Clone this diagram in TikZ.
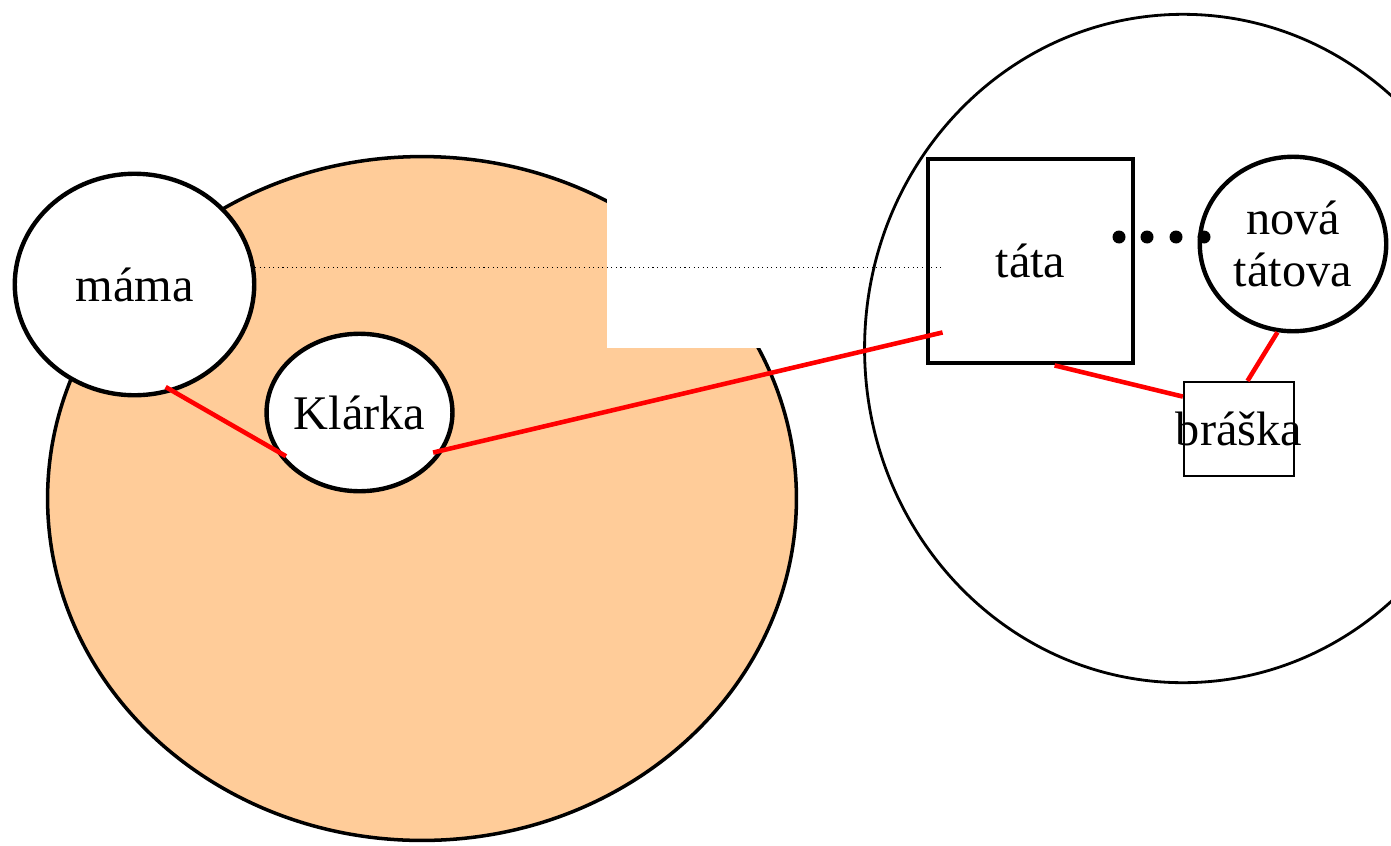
\documentclass[tikz,border=0pt]{standalone}
\usepackage{fontspec}
\setmainfont{Liberation Serif}
\usetikzlibrary{shapes.geometric, calc}
\definecolor{mpeach}{HTML}{FFCC99}
\definecolor{mred}{HTML}{FF0000}
\tikzset{
  persona/.style={ellipse, draw=black, fill=white, line width=2.5pt, inner sep=0pt,
                  align=center, font=\fontsize{27.5}{30}\selectfont},
  tatabox/.style={rectangle, draw=black, fill=white, line width=2.8pt, inner sep=0pt,
                  minimum width=4.1cm, minimum height=4.08cm, font=\fontsize{27.5}{30}\selectfont},
  brbox/.style={rectangle, draw=black, fill=white, line width=1.3pt, inner sep=0pt,
                minimum width=2.2cm, minimum height=1.88cm, font=\fontsize{27.5}{30}\selectfont},
  tie/.style={mred, line width=2.6pt},
  dotline/.style={dotted, line width=0.6pt, black},
}

\begin{document}
\begin{tikzpicture}[x=0.02cm, y=-0.02cm]
  \useasboundingbox (0,0) rectangle (1391,845);

  % rodiny
  \draw[fill=mpeach, line width=2pt] (422,498.5) ellipse [x radius=7.49cm, y radius=6.84cm];
  \fill[white] (607,190) rectangle (780,348);
  \draw[line width=1.6pt] (1183,348.5) ellipse [x radius=6.37cm, y radius=6.685cm];

  % osoby
  \node[persona, minimum width=4.79cm, minimum height=4.43cm] (mama) at (134.5,284.5) {máma};
  \node[persona, minimum width=3.51cm, minimum height=3.15cm] (klarka) at (359.5,412.5) {Klárka};
  \node[tatabox] (tata) at (1030.5,261) {táta};
  \node[persona, minimum width=3.73cm, minimum height=3.49cm] (nova) at (1293,244) {nová\\tátova};
  \node[brbox] (braska) at (1239,429) {\makebox[0pt]{\raisebox{-0.08cm}{bráška}}};

  \coordinate (tataIn) at ([shift={(17,-33)}]tata.south west);

  % vztahy
  \draw[dotline] (mama.8) -- (mama.8 -| tataIn);
  \draw[tie, shorten <=-0.18cm, shorten >=-0.25cm] (mama.290) -- (klarka.204);
  \draw[tie, shorten <=-0.22cm] (klarka.336) -- (tataIn);
  \draw[tie] (tata.283) -- (braska.150);
  \draw[tie] (nova.260) -- (braska.80);

  \foreach \dx in {1119,1147,1176,1204}
    \fill (\dx,237) circle [radius=0.13cm];
\end{tikzpicture}
\end{document}
